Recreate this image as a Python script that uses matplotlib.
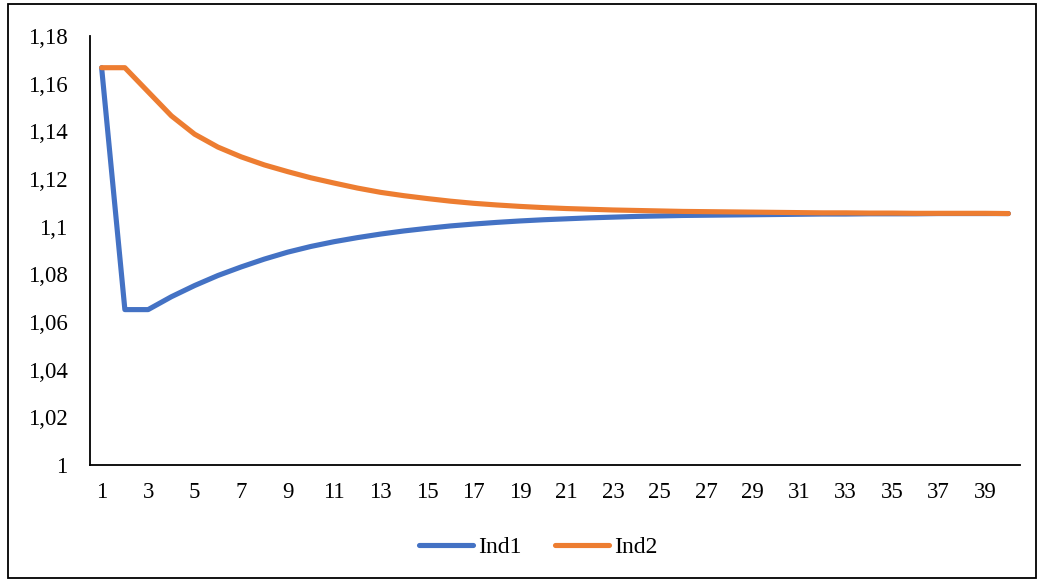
import matplotlib
matplotlib.use("Agg")
import matplotlib.pyplot as plt
from matplotlib.patches import Rectangle

x_vals = list(range(1, 41))
ind1 = [1.1667, 1.0652, 1.0652, 1.0706, 1.0753, 1.0795, 1.0831, 1.0864, 1.0893, 1.0917,
        1.0937, 1.0954, 1.0969, 1.0982, 1.0993, 1.1003, 1.1011, 1.1018, 1.1024, 1.1029,
        1.1033, 1.1037, 1.1040, 1.1043, 1.1045, 1.1047, 1.1048, 1.1049, 1.1050, 1.1051,
        1.1052, 1.1053, 1.1053, 1.1054, 1.1054, 1.1054, 1.1055, 1.1055, 1.1055, 1.1055]
ind2 = [1.1667, 1.1667, 1.1566, 1.1465, 1.1388, 1.1334, 1.1293, 1.1259, 1.1231, 1.1205,
        1.1183, 1.1162, 1.1144, 1.1130, 1.1118, 1.1107, 1.1098, 1.1091, 1.1085, 1.1080,
        1.1076, 1.1073, 1.1070, 1.1068, 1.1066, 1.1064, 1.1063, 1.1062, 1.1061, 1.1060,
        1.1059, 1.1058, 1.1058, 1.1057, 1.1057, 1.1056, 1.1056, 1.1056, 1.1056, 1.1055]
y_ticks = [1.0, 1.02, 1.04, 1.06, 1.08, 1.1, 1.12, 1.14, 1.16, 1.18]
y_labels = ["1", "1,02", "1,04", "1,06", "1,08", "1,1", "1,12", "1,14", "1,16", "1,18"]
x_ticks = list(range(1, 41, 2))
series_names = ["Ind1", "Ind2"]
colors = ["#4472C4", "#ED7D31"]

plt.rcParams['font.family'] = ['Liberation Serif', 'DejaVu Serif']

W, H = 1044, 582
fig = plt.figure(figsize=(W / 100, H / 100), dpi=100)
ax = fig.add_axes([90 / W, 1 - 465 / H, (1020 - 90) / W, (465 - 36) / H])

for vals, name, c in zip([ind1, ind2], series_names, colors):
    ax.plot(x_vals, vals, color=c, lw=3.7, label=name,
            solid_capstyle='round', solid_joinstyle='round')

ax.set_xlim(0.5, 40.5)
ax.set_ylim(1.0, 1.18)
ax.set_yticks(y_ticks)
ax.set_yticklabels(y_labels)
ax.set_xticks(x_ticks)
ax.set_xticklabels([str(t) for t in x_ticks])
ax.tick_params(axis='both', length=0, labelsize=16.5, colors='black')
ax.tick_params(axis='y', pad=16)
ax.tick_params(axis='x', pad=12)
for s in ['top', 'right']:
    ax.spines[s].set_visible(False)
for s in ['left', 'bottom']:
    ax.spines[s].set_color('black')
    ax.spines[s].set_linewidth(1.3)

leg = fig.legend(loc='center', bbox_to_anchor=(538 / W, 1 - 547 / H), ncol=2,
                 frameon=False, fontsize=17, handlelength=2.3, handletextpad=0.2,
                 columnspacing=1.4)

fig.patches.append(Rectangle((8 / W, 4 / H), (1036 - 8) / W, (578 - 4) / H,
                             transform=fig.transFigure, fill=False,
                             edgecolor='black', lw=1.3))

fig.savefig("out.png", dpi=100)
